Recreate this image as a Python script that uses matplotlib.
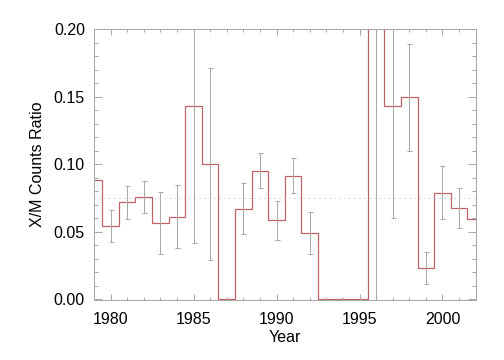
import numpy as np
import matplotlib
matplotlib.use('Agg')
import matplotlib.pyplot as plt
from matplotlib.ticker import MultipleLocator

plt.rcParams['font.family'] = ['Liberation Sans', 'DejaVu Sans']

# yearly ratio values (bins centred on each year)
years = np.arange(1979, 2003)
ratio = [0.088, 0.0545, 0.0723, 0.0757, 0.0567, 0.0611, 0.1429, 0.100,
         0.0, 0.0671, 0.0953, 0.0589, 0.0916, 0.0493, 0.0, 0.0, 0.0,
         0.333, 0.1429, 0.1496, 0.0232, 0.0790, 0.0678, 0.0597]
# error bar ends (nan = no bar)
err_hi = [np.nan, 0.0663, 0.0842, 0.0879, 0.0797, 0.0849, 0.28, 0.1711,
          np.nan, 0.0864, 0.108, 0.073, 0.1042, 0.0649, np.nan, np.nan, np.nan,
          0.9, 0.26, 0.1891, 0.0351, 0.0983, 0.0827, np.nan]
err_lo = [np.nan, 0.0426, 0.0597, 0.0641, 0.0337, 0.0381, 0.0418, 0.0292,
          np.nan, 0.0485, 0.0827, 0.0441, 0.079, 0.0337, np.nan, np.nan, np.nan,
          -0.1, 0.0604, 0.1094, 0.0114, 0.0597, 0.053, np.nan]
mean_ratio = 0.0753

red = '#c25f63'
grey = '#a8a8a8'

fig = plt.figure(figsize=(7, 5), dpi=72)
ax = fig.add_axes([0.1865, 0.1667, 0.7573, 0.7527])

r = np.array(ratio)
hi = np.array(err_hi)
lo = np.array(err_lo)
ax.errorbar(years, r, yerr=[r - lo, hi - r], fmt='none', ecolor=grey,
            elinewidth=1, capsize=2.5, capthick=1)
ax.stairs(r, np.append(years - 0.5, years[-1] + 0.5), color=red, lw=1.2,
          baseline=None)
ax.axhline(mean_ratio, color='#b8b8b8', lw=1, ls=(0, (1, 4)))

ax.set_xlim(1979, 2002)
ax.set_ylim(-0.0005, 0.2)
ax.xaxis.set_major_locator(MultipleLocator(5))
ax.xaxis.set_minor_locator(MultipleLocator(1))
ax.yaxis.set_major_locator(MultipleLocator(0.05))
ax.yaxis.set_minor_locator(MultipleLocator(0.01))
ax.yaxis.set_major_formatter(matplotlib.ticker.FormatStrFormatter('%.2f'))
ax.tick_params(which='both', direction='in', top=True, right=True,
               color=grey, labelsize=16, width=1)
ax.tick_params(which='major', axis='x', length=6, pad=12)
ax.tick_params(which='minor', axis='x', length=3)
ax.tick_params(which='major', axis='y', length=8, pad=9)
ax.tick_params(which='minor', axis='y', length=4)
for s in ax.spines.values():
    s.set_color(grey)
    s.set_linewidth(1)

ax.set_xlabel('Year', fontsize=16, labelpad=3)
ax.set_ylabel('X/M Counts Ratio', fontsize=16, labelpad=9)

fig.savefig('out.png', dpi=72)
